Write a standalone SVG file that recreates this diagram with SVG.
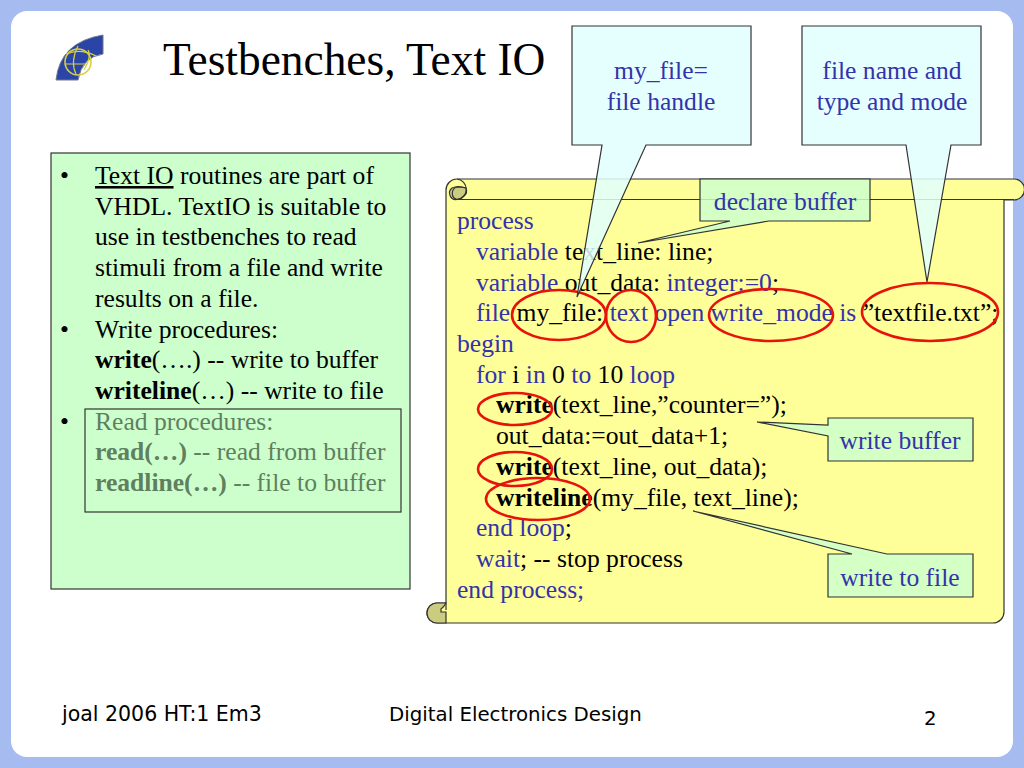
<svg xmlns="http://www.w3.org/2000/svg" width="1024" height="768" viewBox="0 0 1024 768">
<style>
text{font-family:"Liberation Serif","Times New Roman",serif;font-size:25.6px;fill:#000}
.b{fill:#3333aa}
.g{fill:#5f7f5f}
.c{fill:#e0ffff;fill-opacity:.85;stroke:#333;stroke-width:1.2}
.n{fill:#ccffcc;stroke:#333;stroke-width:1.2;fill-opacity:.85}
.e{fill:none;stroke:#e8120c;stroke-width:2.6}
.f{font-family:"DejaVu Sans",sans-serif;font-size:19.800px}
.s{fill:#cccc80;stroke:#333;stroke-width:1.2}
</style>
<rect width="1024" height="768" fill="#a6bcf0"/>
<rect x="11" y="11" width="1002" height="746" rx="16" fill="#fff"/>
<g id="logo">
<path d="M103 35V54Q82 57 78 80H56Q60 42 103 35Z" fill="#2a44a8" stroke="#778" stroke-width="1"/>
<ellipse cx="78" cy="62" rx="13" ry="13" fill="none" stroke="#d8d040" stroke-width="1.6"/>
<path d="M66 54Q80 48 96 56M66 64H86M78 46Q70 62 76 74M88 50Q92 56 84 70" fill="none" stroke="#d8d040" stroke-width="1.200"/>
</g>
<text id="title" x="163" y="75" style="font-size:45.400px">Testbenches, Text IO</text>
<g id="info">
<rect x="51" y="153" width="359" height="436" fill="#ccffcc" stroke="#333" stroke-width="1.2"/>
<text x="60" y="184">•</text><text x="95" y="184"><tspan text-decoration="underline">Text IO</tspan> routines are part of</text>
<text x="95" y="215">VHDL. TextIO is suitable to</text>
<text x="95" y="245">use in testbenches to read</text>
<text x="95" y="276">stimuli from a file and write</text>
<text x="95" y="307">results on a file.</text>
<text x="60" y="338">•</text><text x="95" y="338">Write procedures:</text>
<text x="95" y="368"><tspan font-weight="bold">write</tspan>(….) -- write to buffer</text>
<text x="95" y="399"><tspan font-weight="bold">writeline</tspan>(…) -- write to file</text>
<text x="60" y="430">•</text>
</g>
<g id="read-box">
<rect x="85" y="409" width="316" height="103" fill="#ccffcc" stroke="#333" stroke-width="1.2"/>
<text class="g" x="95" y="430">Read procedures:</text>
<text class="g" x="95" y="460"><tspan font-weight="bold">read(…)</tspan> -- read from buffer</text>
<text class="g" x="95" y="491"><tspan font-weight="bold">readline(…)</tspan> -- file to buffer</text>
</g>
<g id="scroll">
<path d="M446 610V190A11 11 0 0 1 457 179H1014A10.500 10.500 0 0 1 1014 200H1004V612A11 11 0 0 1 993 623H437A10 10 0 0 1 437 603H446Z" fill="#ffff99" stroke="#333" stroke-width="1.2"/>
<path d="M457 199.500A6.500 6.500 0 0 1 452 188Q458 185 466 188Q468 193 464 196Q461 199.500 457 199.500Z" class="s" stroke="none"/>
<path d="M457 179A10.300 10.300 0 0 1 457 199.500A6.500 6.500 0 0 1 457 187Q462 187 466 188" fill="none" stroke="#333" stroke-width="1.2"/>
<path d="M457 199.500H1014" fill="none" stroke="#333" stroke-width="1.2"/>
<path d="M446 603H437A10 10 0 0 0 437 623H446V612H441V609Q444 607 446 603Z" class="s"/>
</g>
<g id="code">
<text class="b" x="457" y="229">process</text>
<text x="476" y="260"><tspan class="b">variable</tspan> text_line: line;</text>
<text x="476" y="291"><tspan class="b">variable</tspan> out_data: <tspan class="b">integer:=0</tspan>;</text>
<text x="476" y="321"><tspan class="b">file</tspan> my_file: <tspan class="b">text</tspan> <tspan class="b">open</tspan> <tspan class="b">write_mode</tspan> <tspan class="b">is</tspan> ”textfile.txt”;</text>
<text class="b" x="457" y="352">begin</text>
<text x="476" y="383"><tspan class="b">for</tspan> i <tspan class="b">in</tspan> 0 <tspan class="b">to</tspan> 10 <tspan class="b">loop</tspan></text>
<text x="496" y="413"><tspan font-weight="bold">write</tspan>(text_line,”counter=”);</text>
<text x="496" y="444">out_data:=out_data+1;</text>
<text x="496" y="475"><tspan font-weight="bold">write</tspan>(text_line, out_data);</text>
<text x="496" y="506"><tspan font-weight="bold">writeline</tspan>(my_file, text_line);</text>
<text x="476" y="536"><tspan class="b">end loop</tspan>;</text>
<text x="476" y="567"><tspan class="b">wait</tspan>; -- stop process</text>
<text class="b" x="457" y="598">end process;</text>
</g>
<g id="connectors">
<ellipse class="e" cx="559" cy="315" rx="47" ry="25"/>
<ellipse class="e" cx="631" cy="316" rx="25" ry="26"/>
<ellipse class="e" cx="771" cy="315" rx="62" ry="26"/>
<ellipse class="e" cx="930" cy="312" rx="68" ry="29"/>
<ellipse class="e" cx="515" cy="409" rx="37" ry="16"/>
<ellipse class="e" cx="515" cy="469" rx="37" ry="17"/>
<ellipse class="e" cx="538" cy="499" rx="52" ry="21"/>
</g>
<g id="callout-file-handle">
<path class="c" d="M572 26H751V145H646L577 297L602 145H572Z"/>
<text class="b" x="661" y="79" text-anchor="middle">my_file=</text>
<text class="b" x="661" y="110" text-anchor="middle">file handle</text>
</g>
<g id="callout-file-name">
<path class="c" d="M802 26H981V145H951L927 282L906 145H802Z"/>
<text class="b" x="892" y="79" text-anchor="middle">file name and</text>
<text class="b" x="892" y="110" text-anchor="middle">type and mode</text>
</g>
<g id="callout-declare">
<path class="n" d="M700 179H870V221H769L638 243L730 221H700Z"/>
<text class="b" x="785" y="210" text-anchor="middle">declare buffer</text>
</g>
<g id="callout-write-buffer">
<path class="n" d="M828 418H973V461H828V436L757 422L828 425Z"/>
<text class="b" x="900" y="449" text-anchor="middle">write buffer</text>
</g>
<g id="callout-write-file">
<path class="n" d="M852 554L693 511L887 554H973V597H828V554Z"/>
<text class="b" x="900" y="586" text-anchor="middle">write to file</text>
</g>
<g id="footer">
<text class="f" x="62" y="721" style="font-size:20.500px">joal 2006 HT:1 Em3</text>
<text class="f" x="389" y="721">Digital Electronics Design</text>
<text class="f" x="924" y="725">2</text>
</g>
</svg>
